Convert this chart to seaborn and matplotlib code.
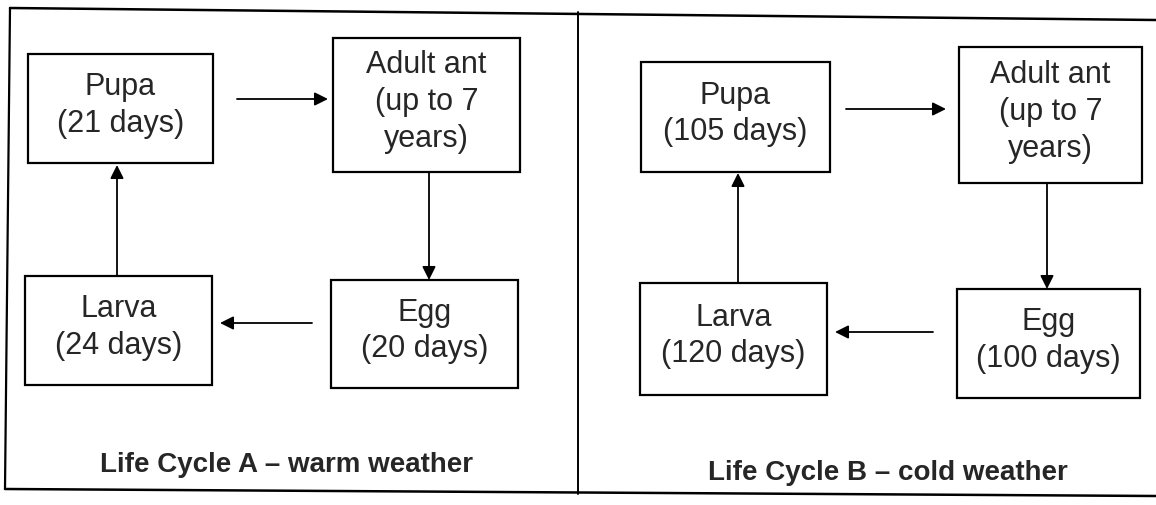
"""
Ant life cycle diagram: warm vs cold weather
"""
import matplotlib
matplotlib.use("Agg")
import matplotlib.pyplot as plt
from matplotlib.patches import Rectangle
import seaborn as sns

# ---------------------------------------------------------------------------
# data
# ---------------------------------------------------------------------------
stages = ["Pupa", "Adult ant", "Egg", "Larva"]
duration_a = ["(21 days)", "(up to 7\nyears)", "(20 days)", "(24 days)"]
duration_b = ["(105 days)", "(up to 7\nyears)", "(100 days)", "(120 days)"]
captions = ["Life Cycle A \u2013 warm weather", "Life Cycle B \u2013 cold weather"]

# ---------------------------------------------------------------------------
# layout (pixel coords of the 1156x505 canvas, y downwards)
# ---------------------------------------------------------------------------
boxes_a = [(28, 54, 213, 163), (333, 38, 520, 172), (331, 280, 518, 388), (25, 276, 212, 385)]
boxes_b = [(641, 62, 830, 172), (959, 47, 1142, 183), (957, 289, 1140, 398), (640, 283, 827, 395)]
arrows_a = [((237, 99), (328, 99)), ((429, 172), (429, 280)),
            ((312, 323), (220, 323)), ((117, 276), (117, 165))]
arrows_b = [((846, 109), (946, 109)), ((1047, 183), (1047, 289)),
            ((933, 332), (835, 332)), ((738, 283), (738, 173))]
caption_pos = [(287, 472), (888, 480)]

sns.set_theme(style="white")
plt.rcParams['font.family'] = ['Liberation Sans', 'DejaVu Sans']

fig = plt.figure(figsize=(11.56, 5.05), dpi=100)
ax = fig.add_axes([0, 0, 1, 1])
ax.set_xlim(0, 1156)
ax.set_ylim(505, 0)
ax.axis('off')

# outer frame (scan is slightly tilted)
ax.plot([10, 1156], [8, 20], color='black', lw=1.8)
ax.plot([10, 5], [8, 489], color='black', lw=1.6)
ax.plot([5, 1156], [489, 496], color='black', lw=1.8)
ax.plot([578, 578], [12, 494], color='black', lw=1.4)


def draw_panel(boxes, arrows, durations, caption, cpos):
    for (x0, y0, x1, y1), stage, dur in zip(boxes, stages, durations):
        ax.add_patch(Rectangle((x0, y0), x1 - x0, y1 - y0, fill=False,
                               edgecolor='black', lw=1.6))
        ax.text((x0 + x1) / 2, (y0 + y1) / 2 - 3, f"{stage}\n{dur}",
                ha='center', va='center', fontsize=22, linespacing=1.3)
    for start, end in arrows:
        ax.annotate("", xy=end, xytext=start,
                    arrowprops=dict(arrowstyle='-|>', mutation_scale=20, lw=1.3,
                                    color='black', shrinkA=0, shrinkB=0))
    ax.text(cpos[0], cpos[1], caption, ha='center', va='baseline',
            fontsize=20, fontweight='bold')


draw_panel(boxes_a, arrows_a, duration_a, captions[0], caption_pos[0])
draw_panel(boxes_b, arrows_b, duration_b, captions[1], caption_pos[1])

plt.savefig("out.png", dpi=100)
